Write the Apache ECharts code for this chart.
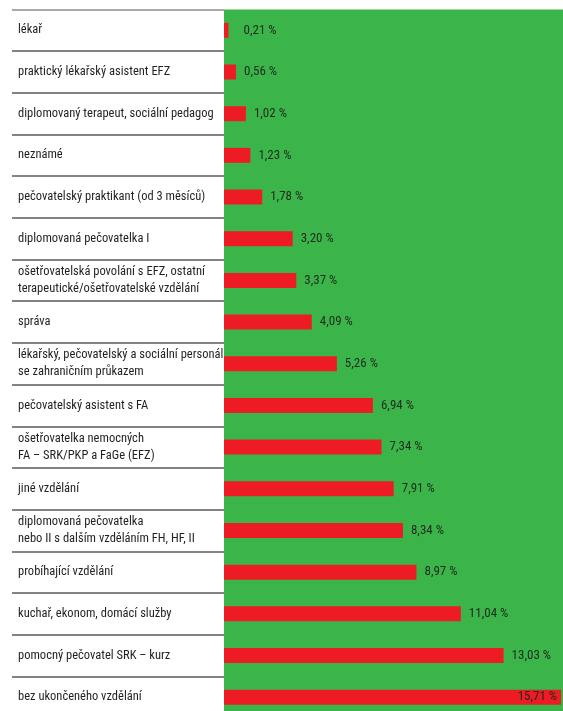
<!DOCTYPE html>
<html>
<head>
<meta charset="utf-8">
<script src="https://cdn.jsdelivr.net/npm/echarts@6/dist/echarts.min.js"></script>
<style>
  html, body { margin: 0; padding: 0; background: #fff; overflow: hidden; }
  #chart { width: 563px; height: 720px; }
</style>
</head>
<body>
<div id="chart"></div>
<script>
// Kategorie vzdělání / profese (shora dolů)
const categories = [
  'lékař',
  'praktický lékařský asistent EFZ',
  'diplomovaný terapeut, sociální pedagog',
  'neznámé',
  'pečovatelský praktikant (od 3 měsíců)',
  'diplomovaná pečovatelka I',
  'ošetřovatelská povolání s EFZ, ostatní\nterapeutické/ošetřovatelské vzdělání',
  'správa',
  'lékařský, pečovatelský a sociální personál\nse zahraničním průkazem',
  'pečovatelský asistent s FA',
  'ošetřovatelka nemocných\nFA – SRK/PKP a FaGe (EFZ)',
  'jiné vzdělání',
  'diplomovaná pečovatelka\nnebo II s dalším vzděláním FH, HF, II',
  'probíhající vzdělání',
  'kuchař, ekonom, domácí služby',
  'pomocný pečovatel SRK – kurz',
  'bez ukončeného vzdělání'
];

// Podíl v procentech
const shares = [0.21, 0.56, 1.02, 1.23, 1.78, 3.20, 3.37, 4.09, 5.26, 6.94, 7.34, 7.91, 8.34, 8.97, 11.04, 13.03, 15.71];

const fmt = v => v.toFixed(2).replace('.', ',') + ' %';
const FONT = '"Roboto Condensed", "DejaVu Sans Condensed", sans-serif';
const TOP = 9.5;
const PLOT_H = 708.5;

const maxShare = Math.max(...shares);
const barData = shares.map((v, i) => {
  const item = { value: v };
  if (v === maxShare) {
    item.label = { position: 'insideRight', distance: 4 };
  } else if (i === 0) {
    item.label = { distance: 15 };
  }
  return item;
});

// oddělovací linky mezi řádky; horní je světlejší
const lineColors = categories.map(() => '#5a5a5a');
lineColors.push('#5a5a5a');
lineColors[0] = '#8c8c8c';

const chart = echarts.init(document.getElementById('chart'), null, { renderer: 'canvas' });
chart.setOption({
  animation: false,
  backgroundColor: '#ffffff',
  grid: [
    { left: 12, width: 212, top: TOP, height: PLOT_H, containLabel: false },
    { left: 224, right: 0, top: TOP, height: PLOT_H, show: true, backgroundColor: '#3bb54a', borderWidth: 0 }
  ],
  xAxis: [
    { gridIndex: 0, type: 'value', show: false, min: 0, max: 1 },
    { gridIndex: 1, type: 'value', show: false, min: 0, max: 15.8 }
  ],
  yAxis: [
    {
      gridIndex: 0,
      type: 'category',
      data: categories,
      inverse: true,
      boundaryGap: true,
      axisLine: { show: false },
      axisTick: { show: false },
      splitLine: { show: true, interval: 0, lineStyle: { color: lineColors, width: 1.5 } },
      axisLabel: {
        inside: true,
        margin: 6,
        interval: 0,
        align: 'left',
        color: '#231f20',
        fontFamily: FONT,
        fontSize: 12.5,
        lineHeight: 17
      }
    },
    {
      gridIndex: 1,
      type: 'category',
      data: categories,
      inverse: true,
      show: false
    }
  ],
  series: [
    {
      type: 'bar',
      xAxisIndex: 1,
      yAxisIndex: 1,
      data: barData,
      barWidth: 15,
      itemStyle: { color: '#ed1c24' },
      label: {
        show: true,
        position: 'right',
        distance: 8,
        color: '#1f2a1f',
        fontFamily: FONT,
        fontSize: 13,
        formatter: p => fmt(p.value)
      }
    }
  ]
});
</script>
</body>
</html>
